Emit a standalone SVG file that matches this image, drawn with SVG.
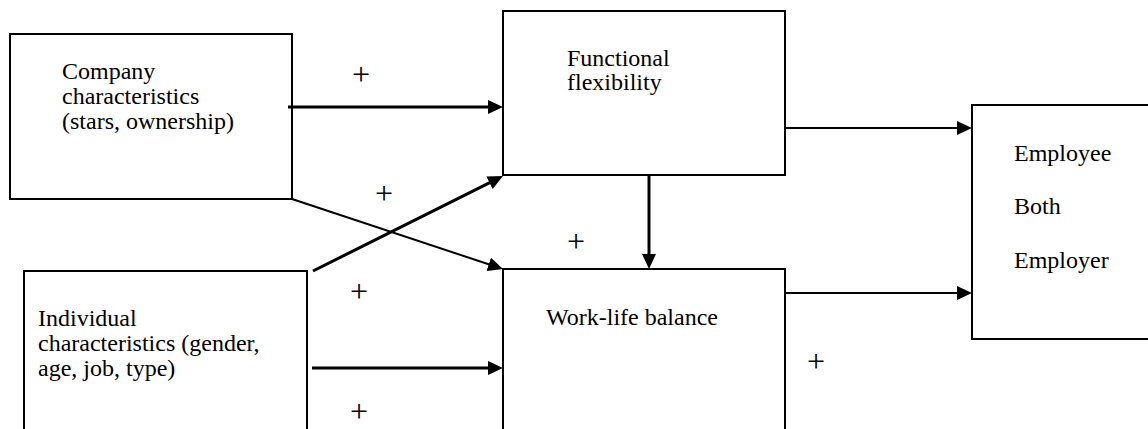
<svg xmlns="http://www.w3.org/2000/svg" width="1148" height="429" viewBox="0 0 1148 429">
  <style>
    .box { fill: #ffffff; stroke: #000000; stroke-width: 2; }
    .lbl { font-family: "Liberation Serif", "Times New Roman", serif; font-size: 24px; fill: #000000; }
    .plus { font-family: "Liberation Serif", "Times New Roman", serif; font-size: 32px; fill: #000000; text-anchor: middle; }
    .thick { stroke: #000000; stroke-width: 3; fill: none; }
    .thin { stroke: #000000; stroke-width: 2; fill: none; }
  </style>
  <defs>
    <marker id="arrow" viewBox="0 0 15 14" refX="7" refY="7" markerWidth="15" markerHeight="14" markerUnits="userSpaceOnUse" orient="auto">
      <path d="M0,0 L15,7 L0,14 z" fill="#000000"/>
    </marker>
  </defs>
  <rect width="1148" height="429" fill="#ffffff"/>

  <g id="company">
    <rect class="box" x="10" y="34" width="282" height="165"/>
    <text class="lbl" x="62" y="79">Company</text>
    <text class="lbl" x="62" y="104">characteristics</text>
    <text class="lbl" x="62" y="129">(stars, ownership)</text>
  </g>

  <g id="functional-flexibility">
    <rect class="box" x="503" y="11" width="282" height="164"/>
    <text class="lbl" x="567" y="66">Functional</text>
    <text class="lbl" x="567" y="90">flexibility</text>
  </g>

  <g id="individual">
    <rect class="box" x="24" y="271" width="283" height="170"/>
    <text class="lbl" x="38" y="326">Individual</text>
    <text class="lbl" x="38" y="351">characteristics (gender,</text>
    <text class="lbl" x="38" y="376">age, job, type)</text>
  </g>

  <g id="work-life-balance">
    <rect class="box" x="503" y="269" width="282" height="172"/>
    <text class="lbl" x="546" y="325">Work-life balance</text>
  </g>

  <g id="outcome">
    <rect class="box" x="972" y="105" width="190" height="234"/>
    <text class="lbl" x="1014" y="161">Employee</text>
    <text class="lbl" x="1014" y="214">Both</text>
    <text class="lbl" x="1014" y="268">Employer</text>
  </g>

  <g id="connectors">
    <line class="thick" x1="288" y1="107" x2="495" y2="107" marker-end="url(#arrow)"/>
    <line class="thin" x1="785" y1="128" x2="964" y2="128" marker-end="url(#arrow)"/>
    <line class="thin" x1="785" y1="293" x2="964" y2="293" marker-end="url(#arrow)"/>
    <line class="thick" x1="649" y1="175" x2="649" y2="261" marker-end="url(#arrow)"/>
    <line class="thin" x1="292" y1="199" x2="495.4" y2="266.5" marker-end="url(#arrow)"/>
    <line class="thick" x1="313" y1="271" x2="495.8" y2="179.6" marker-end="url(#arrow)"/>
    <line class="thick" x1="312" y1="368" x2="495" y2="368" marker-end="url(#arrow)"/>
  </g>

  <g id="signs">
    <text class="plus" x="361" y="85">+</text>
    <text class="plus" x="384" y="204">+</text>
    <text class="plus" x="359" y="302">+</text>
    <text class="plus" x="359" y="422">+</text>
    <text class="plus" x="576" y="252">+</text>
    <text class="plus" x="816" y="372">+</text>
  </g>
</svg>
